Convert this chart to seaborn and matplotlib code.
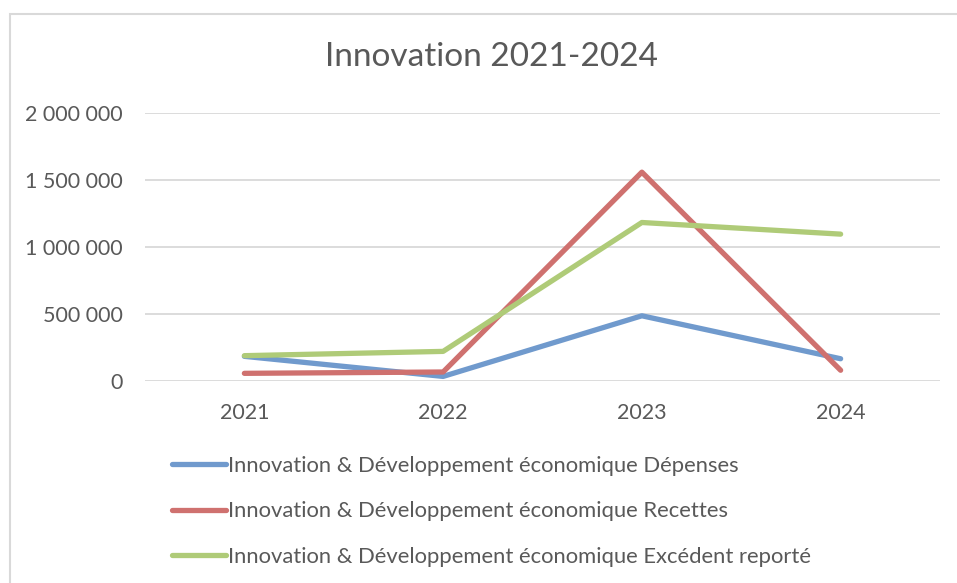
import pandas as pd
import seaborn as sns
import matplotlib.pyplot as plt
from matplotlib.ticker import FuncFormatter
from matplotlib.patches import Rectangle

years = ["2021", "2022", "2023", "2024"]
depenses = [182000, 32000, 485000, 164000]
recettes = [55000, 65000, 1558000, 78000]
excedent = [187000, 219000, 1182000, 1095000]
series_names = [
    "Innovation & Développement économique Dépenses",
    "Innovation & Développement économique Recettes",
    "Innovation & Développement économique Excédent reporté",
]
colors = ["#709ACD", "#CF716F", "#AFCB78"]

df = pd.DataFrame({
    "Année": years * 3,
    "Valeur": depenses + recettes + excedent,
    "Série": [series_names[0]] * 4 + [series_names[1]] * 4 + [series_names[2]] * 4,
})

sns.set_style("white")
plt.rcParams["font.family"] = ["Lato", "DejaVu Sans"]
text_color = "#595959"

fig = plt.figure(figsize=(9.57, 5.83), dpi=100)
ax = fig.add_axes([145 / 957, 1 - 380.7 / 583, (940 - 145) / 957, (380.7 - 113) / 583])

#==================
#Lines
#==================
sns.lineplot(data=df, x="Année", y="Valeur", hue="Série", palette=colors,
             linewidth=3.8, ax=ax, solid_capstyle="round", solid_joinstyle="round")

ax.set_xlim(-0.5, 3.5)
ax.set_ylim(0, 2000000)
ax.set_yticks([0, 500000, 1000000, 1500000, 2000000])
ax.yaxis.set_major_formatter(FuncFormatter(lambda v, p: f"{int(v):,}".replace(",", " ")))
ax.grid(axis="y", color="#D9D9D9", linewidth=1.3)
ax.grid(axis="x", visible=False)
ax.set_axisbelow(True)
for s in ax.spines.values():
    s.set_visible(False)
ax.tick_params(axis="both", length=0, labelsize=15.5, labelcolor=text_color)
ax.tick_params(axis="y", pad=16)
ax.tick_params(axis="x", pad=16)
ax.set_xlabel("")
ax.set_ylabel("")

#==================
#Title & legend
#==================
fig.text(491 / 957, 1 - 57 / 583, "Innovation 2021-2024", ha="center", va="center",
         fontsize=24, color=text_color)

ax.legend(loc="upper left", bbox_to_anchor=(163 / 957, 1 - 447 / 583),
          bbox_transform=fig.transFigure, frameon=False, fontsize=15.8,
          labelcolor=text_color, handlelength=2.45, handletextpad=0.12,
          labelspacing=1.16, borderaxespad=0)

# chart area border (top & left visible)
fig.patches.append(Rectangle((10 / 957, -0.1), 1.2, 1 - 13.5 / 583 + 0.1,
                             transform=fig.transFigure, fill=False,
                             edgecolor="#D9D9D9", linewidth=1.5))

plt.savefig("out.png", dpi=100)
